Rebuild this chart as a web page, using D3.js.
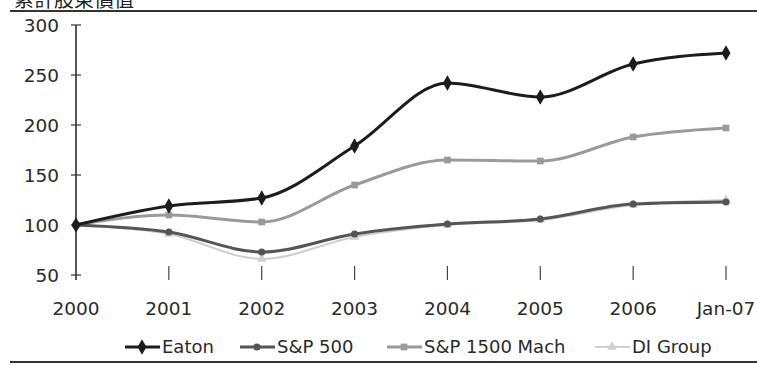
<!DOCTYPE html>
<html>
<head>
<meta charset="utf-8">
<script src="https://cdn.jsdelivr.net/npm/d3@7"></script>
<style>
  body { margin: 0; background: #fff; }
  svg { display: block; font-family: 'DejaVu Sans', sans-serif; }
</style>
</head>
<body>
<script>
// Data.
const years = ['2000', '2001', '2002', '2003', '2004', '2005', '2006', 'Jan-07'];
const eaton = [100, 119, 127, 179, 242, 228, 261, 272];
const sp500 = [100, 93, 73, 91, 101, 106, 121, 123];
const sp1500 = [100, 110, 103, 140, 165, 164, 188, 197];
const diGroup = [100, 91, 66, 88, 100, 105, 120, 125];
const yTicks = [50, 100, 150, 200, 250, 300];

const series = [
    { name: 'Eaton', values: eaton, color: '#1c1c1c', width: 3, shape: d3.symbolDiamond, size: 70 },
    { name: 'S&P 500', values: sp500, color: '#555', width: 3, shape: d3.symbolCircle, size: 40 },
    { name: 'S&P 1500 Mach', values: sp1500, color: '#9a9a9a', width: 3, shape: d3.symbolSquare, size: 45 },
    { name: 'DI Group', values: diGroup, color: '#cfcfcf', width: 2, shape: d3.symbolTriangle, size: 40 }
];

const W = 757, H = 369;
const svg = d3.select('body').append('svg')
    .attr('width', W)
    .attr('height', H);

// Title, cut off at the top like the scan.
svg.append('text')
    .attr('x', 14)
    .attr('y', 7)
    .attr('font-size', '20px')
    .attr('font-family', "'Noto Sans CJK TC', sans-serif")
    .attr('fill', '#222')
    .text('累計股東價值');

// Top and bottom rules.
svg.append('line').attr('x1', 10).attr('x2', W).attr('y1', 11).attr('y2', 11)
    .attr('stroke', '#333').attr('stroke-width', 2);
svg.append('line').attr('x1', 10).attr('x2', W).attr('y1', 362).attr('y2', 362)
    .attr('stroke', '#333').attr('stroke-width', 2);

// Scales.
const x = d3.scalePoint().domain(years).range([76, 726]);
const y = d3.scaleLinear().domain([50, 300]).range([275, 25]);

// Y axis: line plus cross ticks.
const yAxis = svg.append('g');
yAxis.append('line')
    .attr('x1', 76).attr('x2', 76)
    .attr('y1', y(300)).attr('y2', y(50) + 5)
    .attr('stroke', '#222').attr('stroke-width', 1.5);
yAxis.selectAll('.tick')
    .data(yTicks)
    .join('line')
    .attr('x1', 71).attr('x2', 81)
    .attr('y1', d => y(d)).attr('y2', d => y(d))
    .attr('stroke', '#333').attr('stroke-width', 1.2);
yAxis.selectAll('.lab')
    .data(yTicks)
    .join('text')
    .attr('x', 59)
    .attr('y', d => y(d))
    .attr('dy', '0.36em')
    .attr('text-anchor', 'end')
    .attr('font-size', '18.5px')
    .attr('fill', '#2a2a2a')
    .text(d => d);

// X ticks (no base line) and labels.
const xAxis = svg.append('g');
xAxis.selectAll('line')
    .data(years.slice(1))
    .join('line')
    .attr('x1', d => x(d)).attr('x2', d => x(d))
    .attr('y1', 266).attr('y2', 280)
    .attr('stroke', '#444').attr('stroke-width', 1.2);
xAxis.selectAll('text')
    .data(years)
    .join('text')
    .attr('x', d => x(d))
    .attr('y', 308)
    .attr('dy', '0.36em')
    .attr('text-anchor', 'middle')
    .attr('font-size', '18.5px')
    .attr('fill', '#2a2a2a')
    .text(d => d);

// Lines.
const line = d3.line()
    .x((d, i) => x(years[i]))
    .y(d => y(d))
    .curve(d3.curveMonotoneX);

const plot = svg.append('g');
series.slice().reverse().forEach(s => {
    plot.append('path')
        .datum(s.values)
        .attr('d', line)
        .attr('fill', 'none')
        .attr('stroke', s.color)
        .attr('stroke-width', s.width);
    plot.selectAll(null)
        .data(s.values)
        .join('path')
        .attr('transform', (d, i) => `translate(${x(years[i])},${y(d)})`)
        .attr('d', d3.symbol().type(s.shape).size(s.size))
        .attr('fill', s.color);
});

// Legend.
const legendX = [125, 240, 387, 595];
const legend = svg.append('g');
series.forEach((s, i) => {
    const g = legend.append('g').attr('transform', `translate(${legendX[i]},347)`);
    g.append('line')
        .attr('x1', 0).attr('x2', 35)
        .attr('stroke', s.color)
        .attr('stroke-width', s.width);
    g.append('path')
        .attr('transform', 'translate(17,0)')
        .attr('d', d3.symbol().type(s.shape).size(s.size))
        .attr('fill', s.color);
    g.append('text')
        .attr('x', 37)
        .attr('dy', '0.36em')
        .attr('font-size', '18px')
        .attr('fill', '#2a2a2a')
        .text(s.name);
});
</script>
</body>
</html>
